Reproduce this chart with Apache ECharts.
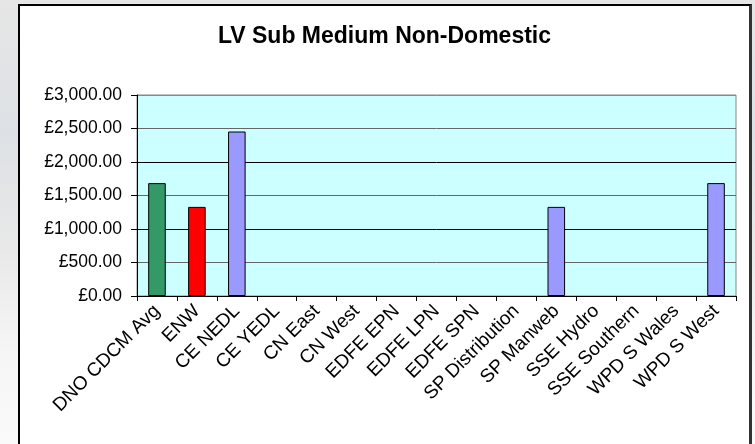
<!DOCTYPE html>
<html>
<head>
<meta charset="utf-8">
<script src="https://cdn.jsdelivr.net/npm/echarts@6.0.0/dist/echarts.min.js"></script>
<style>
html, body { margin: 0; padding: 0; width: 755px; height: 444px; overflow: hidden; }
body { background: linear-gradient(to bottom, #e6e6e6 0%, #dde1e5 30%, #e8e8e8 55%, #f6f6f6 80%, #fafafa 100%); }
#box {
  position: absolute; left: 18px; top: 4px; width: 734px; height: 460px;
  box-sizing: border-box; background: #fff;
  border: 2px solid #000; border-right: 3px solid #333;
}
#chart { width: 729px; height: 440px; }
</style>
</head>
<body>
<div id="box"><div id="chart"></div></div>
<script>
var categories = ['DNO CDCM Avg', 'ENW', 'CE NEDL', 'CE YEDL', 'CN East', 'CN West', 'EDFE EPN',
    'EDFE LPN', 'EDFE SPN', 'SP Distribution', 'SP Manweb', 'SSE Hydro', 'SSE Southern',
    'WPD S Wales', 'WPD S West'];
var values = [1685, 1330, 2455, null, null, null, null, null, null, null, 1330, null, null, null, 1685];
var yTicks = [0, 500, 1000, 1500, 2000, 2500, 3000];

var myChart = echarts.init(document.getElementById('chart'));

function money(v) {
    var s = v.toFixed(2).split('.');
    s[0] = s[0].replace(/\B(?=(\d{3})+(?!\d))/g, ',');
    return '£' + s.join('.');
}

myChart.setOption({
    animation: false,
    title: {
        text: 'LV Sub Medium Non-Domestic',
        left: 'center',
        top: 14,
        textStyle: { fontFamily: 'Liberation Sans, Arial', fontSize: 23, fontWeight: 'bold', color: '#000' }
    },
    grid: {
        left: 117, top: 89, width: 599, height: 201,
        show: true, backgroundColor: '#ccffff', borderColor: '#888', borderWidth: 1
    },
    xAxis: {
        type: 'category',
        data: categories,
        axisLine: { lineStyle: { color: '#000', width: 1 } },
        axisTick: { show: true, length: 5, lineStyle: { color: '#000' } },
        axisLabel: {
            rotate: 45, interval: 0, margin: 12,
            fontFamily: 'Liberation Sans, Arial', fontSize: 19, color: '#000'
        }
    },
    yAxis: {
        type: 'value',
        min: yTicks[0], max: yTicks[yTicks.length - 1], interval: 500,
        axisLine: { show: true, lineStyle: { color: '#000' } },
        axisTick: { show: true, length: 6, lineStyle: { color: '#000' } },
        axisLabel: {
            formatter: money, margin: 15,
            fontFamily: 'Liberation Sans, Arial', fontSize: 17.5, color: '#000'
        },
        splitLine: { lineStyle: { color: ['#000', '#666', '#000', '#666', '#000', '#666', '#888'], width: 1 } }
    },
    series: [{
        type: 'bar',
        data: values,
        barWidth: '44%',
        itemStyle: {
            borderColor: '#000', borderWidth: 1,
            color: function (p) {
                if (p.dataIndex === 0) return '#339966';
                if (p.dataIndex === 1) return '#ff0000';
                return '#9999ff';
            }
        }
    }]
});
</script>
</body>
</html>
